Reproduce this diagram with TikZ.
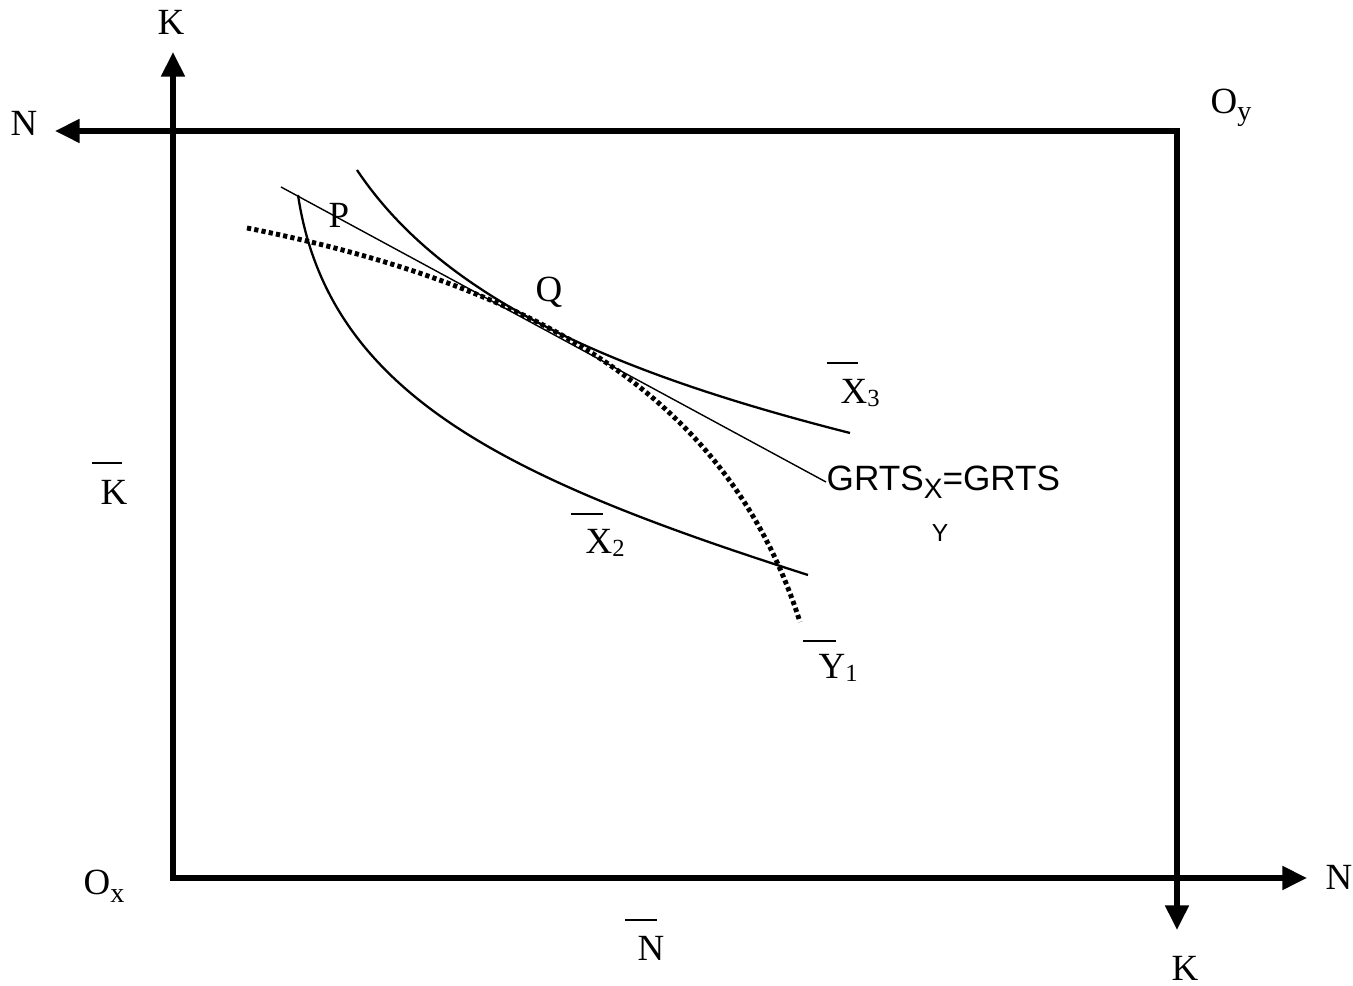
\documentclass[tikz,border=0pt]{standalone}
\usepackage{fontspec}
\setmainfont{Liberation Serif}
\newfontfamily\arial{Liberation Sans}
\usetikzlibrary{arrows.meta}
\newcommand\lowsub[1]{\raisebox{-0.45ex}{\footnotesize #1}}
\newcommand\smallsub[1]{\raisebox{-0.2ex}{\scriptsize #1}}
\tikzset{
  axis/.style={line width=1.5pt, line join=miter, {Triangle[length=7pt,width=6.5pt]}-{Triangle[length=7pt,width=6.5pt]}},
  iso/.style={line width=0.65pt},
  dotcurve/.style={line width=1.4pt, dash pattern=on 1.2pt off 0.9pt},
  thin/.style={line width=0.4pt},
  lbl/.style={inner sep=0pt, font=\fontsize{10.5}{12}\selectfont},
  bar/.style={line width=0.5pt},
}
\begin{document}
\begin{tikzpicture}[x=0.01cm,y=-0.01cm]
\useasboundingbox (0,0) rectangle (1353,986);
% axes
\coordinate (Ox) at (173,878);
\coordinate (Kt) at (173,52);
\coordinate (Nr) at (1307,878);
\coordinate (Oy) at (1177,131);
\coordinate (Nl) at (55,131);
\coordinate (Kb) at (1177,930);
\draw[axis] (Kt) -- (Ox) -- (Nr);
\draw[axis] (Nl) -- (Oy) -- (Kb);
% curves
\draw[iso] (298,195) .. controls (328,395) and (508,479) .. (808,575);
\draw[iso] (357,170) .. controls (447,305) and (630,377) .. (850,433);
\draw[dotcurve] (247,228) .. controls (547,288) and (730,402) .. (800,622);
% labels
\node[lbl] (lKt) at (171,22) {K};
\node[lbl] (lNl) at (24,123) {N};
\node[lbl, anchor=west] (lOy) at (1210,108) {O\lowsub{y}};
\node[lbl, anchor=west] (lNr) at (1325,877) {N};
\node[lbl] (lKb) at (1185,968) {K};
\node[lbl, anchor=west] (lOx) at (83,886) {O\lowsub{x}};
\node[lbl] (lK) at (114,492) {K};
\draw[bar] (92,463) -- (122,463);
\node[lbl] (lN) at (651,948) {N};
\draw[bar] (625,920) -- (657,920);
\node[lbl, anchor=west] (lX2) at (585,543) {X\smallsub{2}};
\draw[bar] (571,514) -- (603,514);
\node[lbl, anchor=west] (lX3) at (840,393) {X\smallsub{3}};
\draw[bar] (827,363) -- (858,363);
\node[lbl, anchor=west] (lY1) at (818,668) {Y\smallsub{1}};
\draw[bar] (803,641) -- (836,641);
\node[lbl] (lP) at (339,215) {P};
\node[lbl] (lQ) at (549,292) {Q};
\node[inner sep=0pt, anchor=west, font=\arial\fontsize{10}{12}\selectfont] (grts) at (826,482) {GRTS\raisebox{-0.45ex}{\footnotesize X}=GRTS};
\node[inner sep=0pt, font=\arial\fontsize{7}{8}\selectfont] (grtsy) at (940,533) {Y};
\draw[thin] (281,187) -- (grts.west);
\end{tikzpicture}
\end{document}
